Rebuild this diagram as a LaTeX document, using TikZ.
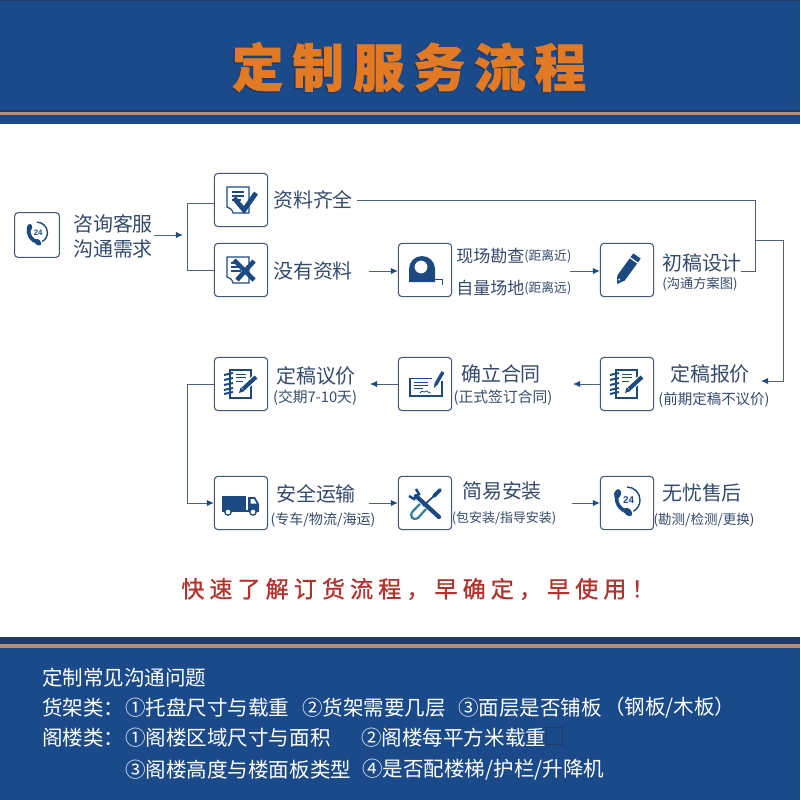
\documentclass[tikz,border=0pt]{standalone}
\usepackage{fontspec}
\setmainfont{Liberation Sans}
\newfontfamily\cjk{Noto Sans CJK SC}
\usetikzlibrary{arrows.meta,positioning,calc}
\definecolor{bannerblue}{RGB}{26,74,138}
\definecolor{bannerdark}{RGB}{30,58,104}
\definecolor{stripetan}{RGB}{190,140,112}
\definecolor{titleorange}{RGB}{226,122,36}
\definecolor{iconblue}{RGB}{28,74,128}
\definecolor{iconteal}{RGB}{48,128,160}
\definecolor{boxline}{RGB}{66,86,118}
\definecolor{flowline}{RGB}{78,96,128}
\definecolor{labelslate}{RGB}{52,74,108}
\definecolor{slogan}{RGB}{180,50,44}
\tikzset{
  iconbox/.style={draw=boxline,fill=white,line width=0.75pt,rounded corners=2.5pt,
    minimum size=1.33cm,inner sep=0pt},
  smallbox/.style={iconbox,minimum size=1.12cm},
  mainlabel/.style={font=\cjk\fontsize{14.2}{16}\selectfont,text=labelslate,inner sep=0pt},
  midlabel/.style={font=\cjk\fontsize{12.1}{14}\selectfont,text=labelslate,inner sep=0pt,anchor=west},
  sublabel/.style={font=\cjk\fontsize{10}{11}\selectfont,text=labelslate,inner sep=0pt},
  qalabel/.style={font=\cjk\fontsize{14.6}{16}\selectfont,text=white,inner sep=0pt,anchor=west},
  flow/.style={flowline,line width=0.7pt},
  flowarrow/.style={flow,-{Latex[length=5pt,width=4.5pt,color=iconblue]}},
  phoneicon/.pic={
    \draw[iconblue,line width=2.6pt] (-10,-9) .. controls (-12,0) and (-7,7) .. (1,9);
    \fill[iconblue,rotate around={-15:(-9.5,-9)}] (-9.5,-9) ellipse (3.4 and 5);
    \fill[iconblue,rotate around={45:(1,9)}] (1,9) ellipse (3.4 and 5);
    \draw[iconblue,line width=1pt] (0,-16) arc (-90:60:13);
    \node[transform shape,font=\bfseries\fontsize{7}{8}\selectfont,text=iconblue,inner sep=0pt] (-label) at (1.5,-3) {24};
  },
  docpage/.pic={
    \draw[iconblue,line width=0.8pt,fill=white] (-14,-13) -- (8,-13) -- (8,13) -- (-8,13)
      .. controls (-9,9) and (-11,8) .. (-14,7) -- cycle;
  },
  checkicon/.pic={
    \pic {docpage};
    \draw[iconblue,line width=0.9pt] (-9,-8) -- (3,-8) (-9,-4) -- (3,-4) (-9,0) -- (0,0);
    \draw[iconblue,line width=3.4pt] (-7,-2) -- (3,10) -- (15,-7);
  },
  crossicon/.pic={
    \pic {docpage};
    \draw[iconblue,line width=1.2pt] (-10,-7) -- (-2,-7) (-10,-3) -- (-1,-3) (-10,1) -- (0,1);
    \draw[iconblue,line width=3.2pt] (-7,-10) -- (13,10) (13,-9) -- (-4,10);
  },
  tapeicon/.pic={
    \fill[iconblue,even odd rule] (-16,12) -- (-16,-1) arc (180:360:13) -- (10,12) -- cycle
      (-4,-3) circle (6.5);
    \draw[iconblue,line width=0.7pt] (10,9) -- (17,9) -- (17,15);
  },
  pencilicon/.pic={
    \fill[iconblue] (-10,14) -- (-9.7,5.4) -- (6.3,-16.6) -- (13.7,-11.4) -- (-2.3,10.6) -- cycle;
    \draw[white,line width=0.9pt] (3.2,-12.2) -- (10.6,-7);
    \fill[white] (-7.8,9.6) circle (1);
  },
  notebookicon/.pic={
    \draw[iconblue,line width=0.9pt,fill=white] (-11,-14) rectangle (10,14);
    \foreach \y in {-10,-5,0,5,9}{
      \draw[iconblue,line width=1.4pt] (-17,\y+1) -- (-8,\y-1);
    }
    \draw[iconblue,line width=0.7pt] (-5,-10) -- (5,-10) (-5,-7) -- (5,-7) (-5,-3) -- (2,-3);
    \draw[white,line width=4.6pt] (2,5) -- (15,-7);
    \draw[iconblue,line width=2.9pt] (2,5) -- (15,-7);
    \fill[iconblue] (-2,9) -- (-0.4,3.4) -- (3.6,7) -- cycle;
  },
  contracticon/.pic={
    \draw[iconblue,line width=0.6pt] (-15,-6) -- (7,-6);
    \draw[iconblue,line width=1.2pt] (-15,-6) -- (-15,12) -- (17,12) -- (17,-3);
    \draw[iconblue,line width=0.7pt] (-11,-2) -- (3,-2) (-11,1) -- (3,1) (-11,4) -- (-2,4);
    \draw[iconblue,line width=0.6pt] (-5,9) .. controls (-3,5) and (-1,10) .. (1,7) .. controls (2,6) and (4,10) .. (6,9);
    \draw[iconblue,line width=2.4pt] (11,0) -- (18,-12);
    \fill[iconblue] (9,4) -- (9.6,-1) -- (12.4,0.6) -- cycle;
  },
  truckicon/.pic={
    \fill[iconblue] (-19,-7) rectangle (5,7);
    \fill[iconblue] (7,-6) -- (14,-6) -- (18,1) -- (18,7) -- (7,7) -- cycle;
    \fill[white] (9.5,-4) -- (13,-4) -- (15.5,0.5) -- (9.5,0.5) -- cycle;
    \fill[iconblue] (-19,7) rectangle (18,8.5);
    \foreach \x in {-13,12}{
      \draw[iconblue,line width=0.9pt,fill=white] (\x,9) circle (3.2);
    }
  },
  toolicon/.pic={
    \draw[iconteal,line width=1.6pt] (-5,1) -- (-12,8) .. controls (-17,14) and (-11,18) .. (-7,15) -- (1,6);
    \draw[iconblue,line width=1.2pt] (-2,3) -- (10,-8);
    \draw[iconblue,line width=2.6pt,line cap=round] (9,-7) -- (15,-13);
    \draw[iconblue,line width=3pt,line cap=round] (-9,-7) -- (14,14);
    \draw[iconblue,line width=1.8pt] (-16,-7) -- (-11,-4) -- (-6,-9) -- (-9,-14);
  },
}
\begin{document}
\begin{tikzpicture}[x=0.025cm,y=-0.025cm]
  \useasboundingbox (0,0) rectangle (800,800);
  % ====== Top and bottom banners ======
  \fill[bannerblue] (0,0) rectangle (800,124);
  \fill[bannerdark] (0,0) rectangle (800,1.5);
  \fill[bannerdark] (0,110.5) rectangle (800,112);
  \fill[stripetan] (0,112) rectangle (800,115.5);
  \fill[bannerblue] (0,637) rectangle (800,800);
  \fill[bannerdark] (0,637) rectangle (800,644);
  \fill[stripetan] (0,644) rectangle (800,648);
  \node[font=\cjk\bfseries\fontsize{36.5}{38}\selectfont\addfontfeatures{LetterSpace=18,FakeBold=1.5},
    text=bannerdark,inner sep=0pt] (titleshadow) at (407.5,68.5) {定制服务流程};
  \node[font=\cjk\bfseries\fontsize{36.5}{38}\selectfont\addfontfeatures{LetterSpace=18,FakeBold=1.5},
    text=titleorange,inner sep=0pt] (title) at (409,67) {定制服务流程};

  % ====== Icon boxes ======
  \node[smallbox] (consult) at (37,235) {};
  \node[iconbox] (full) at (241,200) {};
  \node[iconbox] (nodata) at (241,270) {};
  \node[iconbox] (survey) at (425,270) {};
  \node[iconbox] (draft) at (627,270) {};
  \node[iconbox] (quote) at (627,384) {};
  \node[iconbox] (contract) at (425,384) {};
  \node[iconbox] (final) at (241,384) {};
  \node[iconbox] (transport) at (241,503) {};
  \node[iconbox] (install) at (425,503) {};
  \node[iconbox] (service) at (627,503) {};

  \pic[scale=0.8] at (consult) {phoneicon};
  \pic at (full) {checkicon};
  \pic at (nodata) {crossicon};
  \pic at (survey) {tapeicon};
  \pic at (draft) {pencilicon};
  \pic at (quote) {notebookicon};
  \pic at (contract) {contracticon};
  \pic at (final) {notebookicon};
  \pic at (transport) {truckicon};
  \pic at (install) {toolicon};
  \pic at (service) {phoneicon};

  % ====== Labels ======
  \node[mainlabel] (consultA) at (113,224) {咨询客服};
  \node[mainlabel] (consultB) at (113,249) {沟通需求};
  \node[mainlabel] (fullT) at (313,200) {资料齐全};
  \node[mainlabel] (nodataT) at (313,271) {没有资料};
  \node[midlabel] (surveyA) at (456,256) {现场勘查};
  \node[sublabel,anchor=west,font=\cjk\fontsize{9.1}{10}\selectfont] (surveyAs) at (524,256) {(距离近)};
  \node[midlabel] (surveyB) at (456,288) {自量场地};
  \node[sublabel,anchor=west,font=\cjk\fontsize{9.1}{10}\selectfont] (surveyBs) at (524,288) {(距离远)};
  \node[mainlabel] (draftT) at (702,263) {初稿设计};
  \node[sublabel,font=\cjk\fontsize{9.4}{10}\selectfont] (draftS) at (700,284) {(沟通方案图)};
  \node[mainlabel] (quoteT) at (710,374) {定稿报价};
  \node[sublabel,font=\cjk\fontsize{10.3}{11}\selectfont] (quoteS) at (714,400) {(前期定稿不议价)};
  \node[mainlabel] (contractT) at (501,374) {确立合同};
  \node[sublabel,font=\cjk\fontsize{10.5}{11}\selectfont] (contractS) at (503,398) {(正式签订合同)};
  \node[mainlabel] (finalT) at (316,376) {定稿议价};
  \node[sublabel,font=\cjk\fontsize{10.5}{11}\selectfont] (finalS) at (315,398) {(交期7-10天)};
  \node[mainlabel] (transportT) at (316,494) {安全运输};
  \node[sublabel] (transportS) at (323,520) {(专车/物流/海运)};
  \node[mainlabel] (installT) at (502,491) {简易安装};
  \node[sublabel,font=\cjk\fontsize{9.2}{11}\selectfont] (installS) at (504,518) {(包安装/指导安装)};
  \node[mainlabel] (serviceT) at (702,493) {无忧售后};
  \node[sublabel,font=\cjk\fontsize{9.6}{11}\selectfont] (serviceS) at (704,520) {(勘测/检测/更换)};

  % ====== Free ends of the connectors ======
  \coordinate (consultOut) at (154,235);
  \coordinate (split) at (183,235);
  \coordinate (splitTop) at (187,203);
  \coordinate (splitBot) at (187,270);
  \coordinate (fullOut) at (357,200.5);
  \coordinate (fullCorner) at (755.5,200.5);
  \coordinate (draftOut) at (741,271);
  \coordinate (joinOut) at (755.5,240);
  \coordinate (joinCorner) at (783,240);
  \coordinate (quoteIn) at (761,381);
  \coordinate (nodataOut) at (369,271);
  \coordinate (surveyOut) at (570,271);
  \coordinate (quoteEnd) at (573,384);
  \coordinate (contractEnd) at (370,384);
  \coordinate (finalBend) at (187,384);
  \coordinate (transportOut) at (369,503);
  \coordinate (installOut) at (572,503);

  % ====== Connectors ======
  \draw[flowarrow] (consultOut) -- (split);
  \draw[flow] (full.west |- splitTop) -- (splitTop) -- (splitBot) -- (nodata.west |- splitBot);
  \draw[flow] (fullOut) -- (fullCorner) -- (draftOut -| fullCorner) -- (draftOut);
  \draw[flowarrow] (joinOut) -- (joinCorner) -- (joinCorner |- quoteIn) -- (quoteIn);
  \draw[flowarrow] (nodataOut) -- (survey.west |- nodataOut);
  \draw[flowarrow] (surveyOut) -- (draft.west |- surveyOut);
  \draw[flowarrow] (quote.west) -- (quoteEnd);
  \draw[flowarrow] (contract.west) -- (contractEnd);
  \draw[flowarrow] (final.west) -- (finalBend) -- (finalBend |- transport.west) -- (transport.west);
  \draw[flowarrow] (transportOut) -- (install.west |- transportOut);
  \draw[flowarrow] (installOut) -- (service.west |- installOut);

  % ====== Slogan ======
  \node[font=\cjk\fontsize{16.4}{18}\selectfont\addfontfeatures{LetterSpace=22,FakeBold=1},
    text=slogan,inner sep=0pt,anchor=west] (sloganT) at (181,589) {快速了解订货流程，早确定，早使用！};

  % ====== Common questions ======
  \node[qalabel] (qaTitle) at (42,678) {定制常见沟通问题};
  \node[qalabel] (rackT) at (42,708) {货架类：};
  \node[qalabel] (rackA) at (125,708) {①托盘尺寸与载重};
  \node[qalabel] (rackB) at (302,708) {②货架需要几层};
  \node[qalabel] (rackC) at (458,708) {③面层是否铺板};
  \node[qalabel] (rackD) at (604,708) {（钢板/木板）};
  \node[qalabel] (loftT) at (42,738) {阁楼类：};
  \node[qalabel] (loftA) at (125,738) {①阁楼区域尺寸与面积};
  \node[qalabel] (loftB) at (361,738) {②阁楼每平方米载重};
  \draw[bannerdark,line width=0.7pt] (546,727.5) rectangle (562.5,744);
  \node[qalabel] (loftC) at (125,770) {③阁楼高度与楼面板类型};
  \node[qalabel] (loftD) at (362,770) {④是否配楼梯/护栏/升降机};
\end{tikzpicture}
\end{document}
